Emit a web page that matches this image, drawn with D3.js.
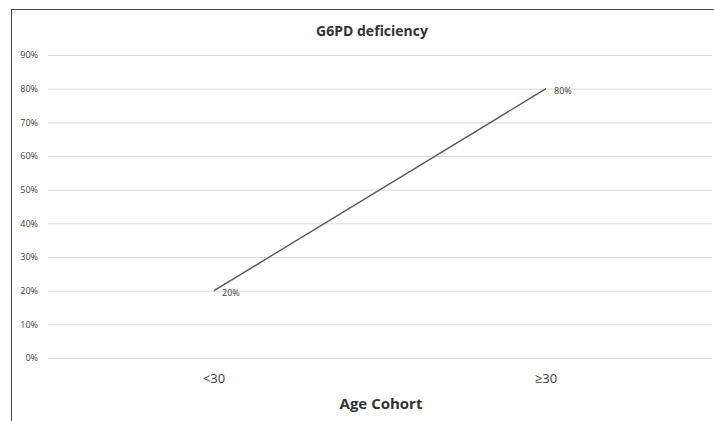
<!DOCTYPE html>
<html><head><meta charset="utf-8">
<script src="https://cdn.jsdelivr.net/npm/d3@7"></script>
<style>body{margin:0;background:#fff}svg{display:block}</style>
</head><body>
<svg id="c" width="714" height="421"></svg>
<script>
const categories = ["<30", "\u226530"];
const values = [0.20, 0.80];
const valueLabels = ["20%", "80%"];
const yTicks = [0, 0.1, 0.2, 0.3, 0.4, 0.5, 0.6, 0.7, 0.8, 0.9];
const title = "G6PD deficiency";
const xTitle = "Age Cohort";

(function () {
const svg = d3.select("#c");
const font = "'Open Sans', 'Liberation Sans', sans-serif";
svg.append("rect").attr("x", 11.5).attr("y", 9.5).attr("width", 710).attr("height", 430)
  .attr("fill", "#fff").attr("stroke", "#444").attr("stroke-width", 1);

const m = { left: 48, right: 712, top: 55, bottom: 358 };
const x = d3.scaleBand().domain(categories).range([m.left, m.right]);
const y = d3.scaleLinear().domain([0, 0.9]).range([m.bottom, m.top]);

const yAxis = d3.axisLeft(y).tickValues(yTicks).tickFormat(d3.format(".0%"))
  .tickSize(-(m.right - m.left)).tickPadding(10);
const gy = svg.append("g").attr("transform", `translate(${m.left},0)`).call(yAxis);
gy.select(".domain").remove();
gy.selectAll(".tick line").attr("stroke", "#d9d9d9").attr("stroke-width", 1);
gy.selectAll(".tick text").attr("fill", "#404040").attr("font-size", 9).attr("font-family", font);

const xAxis = d3.axisBottom(x).tickSize(0).tickPadding(16);
const gx = svg.append("g").attr("transform", `translate(0,${m.bottom})`).call(xAxis);
gx.select(".domain").remove();
gx.selectAll(".tick text").attr("fill", "#404040").attr("font-size", 13).attr("font-family", font);

const line = d3.line().x((d, i) => x(categories[i]) + x.bandwidth() / 2).y(d => y(d));
svg.append("path").datum(values).attr("d", line).attr("fill", "none")
  .attr("stroke", "#595959").attr("stroke-width", 1.4);

svg.selectAll(".dl").data(values).enter().append("text")
  .attr("x", (d, i) => x(categories[i]) + x.bandwidth() / 2 + 8)
  .attr("y", d => y(d) + 5)
  .attr("font-size", 9).attr("font-family", font).attr("fill", "#404040")
  .text((d, i) => valueLabels[i]);

svg.append("text").attr("x", 372).attr("y", 36).attr("text-anchor", "middle")
  .attr("font-size", 14).attr("font-weight", "bold").attr("font-family", font).attr("fill", "#333")
  .text(title);
svg.append("text").attr("x", 381).attr("y", 409).attr("text-anchor", "middle")
  .attr("font-size", 15).attr("font-weight", "bold").attr("font-family", font).attr("fill", "#333")
  .text(xTitle);
})();
</script>
</body></html>
